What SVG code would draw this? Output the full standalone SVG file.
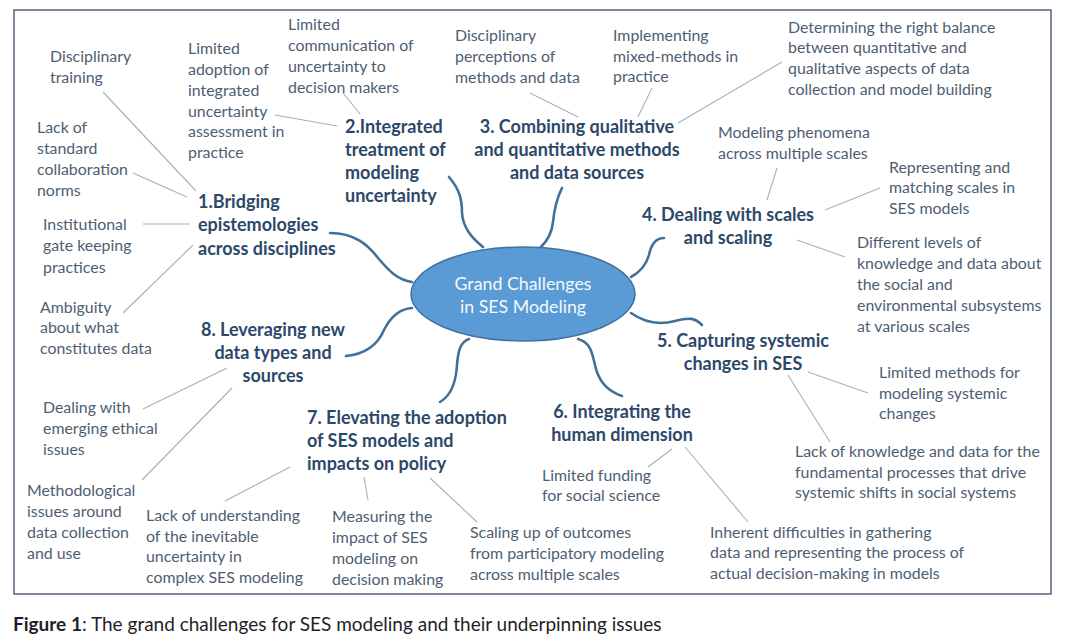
<svg xmlns="http://www.w3.org/2000/svg" width="1072" height="639" viewBox="0 0 1072 639">
<style>
.leaf{font-family:Lato,"Liberation Sans",sans-serif;font-size:15.9px;fill:#4d5e72}
.head{font-family:Lato,"Liberation Sans",sans-serif;font-size:18px;font-weight:bold;fill:#2c4868}
.mid{text-anchor:middle}
.ctr{font-family:Lato,"Liberation Sans",sans-serif;font-size:17.8px;fill:#f4f8fc;text-anchor:middle}
.cap{font-family:Lato,"Liberation Sans",sans-serif;font-size:19px;fill:#1e1e2a}
.thin{fill:none;stroke:#a7b0ba;stroke-width:1.1}
.curve{fill:none;stroke:#41709a;stroke-width:2.6;stroke-linecap:round}
</style>
<rect x="0" y="0" width="1072" height="639" fill="#ffffff"/>
<rect x="14" y="10" width="1037" height="584" fill="#ffffff" stroke="#55657a" stroke-width="1.5"/>

<g id="connectors">
  <path class="curve" d="M330,233 C355,233 368,245 378,258 C390,272 398,280 412,282"/>
  <path class="curve" d="M449,177 C460,190 462,200 462,213 C463,228 472,238 483,247"/>
  <path class="curve" d="M562,188 C556,200 554,212 553,222 C552,233 548,240 541,247"/>
  <path class="curve" d="M664,238 C655,238 651,245 649,255 C646,266 640,272 631,277"/>
  <path class="curve" d="M631,313 C645,323 660,325 675,321 C690,317 695,318 702,325"/>
  <path class="curve" d="M578,339 C590,342 592,352 595,365 C598,380 607,391 622,396"/>
  <path class="curve" d="M469,339 C460,342 458,352 457,365 C456,382 452,395 440,402"/>
  <path class="curve" d="M412,308 C398,309 390,318 384,330 C378,344 366,354 346,356"/>
  <line class="thin" x1="103" y1="92" x2="196" y2="191"/>
  <line class="thin" x1="133" y1="173" x2="187" y2="197"/>
  <line class="thin" x1="143" y1="224" x2="190" y2="224"/>
  <line class="thin" x1="123" y1="313" x2="193" y2="245"/>
  <line class="thin" x1="275" y1="115" x2="337" y2="126"/>
  <line class="thin" x1="343" y1="93" x2="360" y2="114"/>
  <line class="thin" x1="530" y1="93" x2="578" y2="117"/>
  <line class="thin" x1="652" y1="88" x2="638" y2="117"/>
  <line class="thin" x1="782" y1="62" x2="678" y2="123"/>
  <line class="thin" x1="777" y1="168" x2="767" y2="200"/>
  <line class="thin" x1="880" y1="188" x2="825" y2="210"/>
  <line class="thin" x1="797" y1="240" x2="845" y2="257"/>
  <line class="thin" x1="808" y1="372" x2="868" y2="393"/>
  <line class="thin" x1="788" y1="375" x2="830" y2="442"/>
  <line class="thin" x1="685" y1="447" x2="748" y2="522"/>
  <line class="thin" x1="672" y1="449" x2="648" y2="467"/>
  <line class="thin" x1="430" y1="478" x2="477" y2="522"/>
  <line class="thin" x1="364" y1="477" x2="368" y2="500"/>
  <line class="thin" x1="290" y1="467" x2="225" y2="501"/>
  <line class="thin" x1="143" y1="409" x2="227" y2="368"/>
  <line class="thin" x1="232" y1="388" x2="142" y2="480"/>
</g>

<g id="center">
  <ellipse cx="523" cy="294" rx="112" ry="47" fill="#5b9bd5" stroke="#41719c" stroke-width="1.5"/>
  <text class="ctr" x="523" y="290">Grand Challenges</text>
  <text class="ctr" x="523" y="313">in SES Modeling</text>
</g>

<g id="c1">
  <text class="head"><tspan x="198" y="208">1.Bridging</tspan><tspan x="198" y="231">epistemologies</tspan><tspan x="198" y="255">across disciplines</tspan></text>
</g>
<g id="c2">
  <text class="head"><tspan x="345" y="133">2.Integrated</tspan><tspan x="345" y="156">treatment of</tspan><tspan x="345" y="179">modeling</tspan><tspan x="345" y="202">uncertainty</tspan></text>
</g>
<g id="c3">
  <text class="head mid"><tspan x="577" y="133">3. Combining qualitative</tspan><tspan x="577" y="156">and quantitative methods</tspan><tspan x="577" y="179">and data sources</tspan></text>
</g>
<g id="c4">
  <text class="head mid"><tspan x="728" y="221">4. Dealing with scales</tspan><tspan x="728" y="244">and scaling</tspan></text>
</g>
<g id="c5">
  <text class="head mid"><tspan x="743" y="347">5. Capturing systemic</tspan><tspan x="743" y="370">changes in SES</tspan></text>
</g>
<g id="c6">
  <text class="head mid"><tspan x="622" y="418">6. Integrating the</tspan><tspan x="622" y="441">human dimension</tspan></text>
</g>
<g id="c7">
  <text class="head"><tspan x="307" y="424">7. Elevating the adoption</tspan><tspan x="307" y="447">of SES models and</tspan><tspan x="307" y="470">impacts on policy</tspan></text>
</g>
<g id="c8">
  <text class="head mid"><tspan x="273" y="336">8. Leveraging new</tspan><tspan x="273" y="359">data types and</tspan><tspan x="273" y="382">sources</tspan></text>
</g>

<g id="leaves">
  <text class="leaf"><tspan x="50" y="62">Disciplinary</tspan><tspan x="50" y="83">training</tspan></text>
  <text class="leaf"><tspan x="37" y="133">Lack of</tspan><tspan x="37" y="154">standard</tspan><tspan x="37" y="175">collaboration</tspan><tspan x="37" y="196">norms</tspan></text>
  <text class="leaf"><tspan x="43" y="230">Institutional</tspan><tspan x="43" y="251">gate keeping</tspan><tspan x="43" y="273">practices</tspan></text>
  <text class="leaf"><tspan x="40" y="313">Ambiguity</tspan><tspan x="40" y="333">about what</tspan><tspan x="40" y="354">constitutes data</tspan></text>
  <text class="leaf"><tspan x="43" y="413">Dealing with</tspan><tspan x="43" y="434">emerging ethical</tspan><tspan x="43" y="455">issues</tspan></text>
  <text class="leaf"><tspan x="27" y="496">Methodological</tspan><tspan x="27" y="517">issues around</tspan><tspan x="27" y="538">data collection</tspan><tspan x="27" y="559">and use</tspan></text>
  <text class="leaf"><tspan x="146" y="521">Lack of understanding</tspan><tspan x="146" y="542">of the inevitable</tspan><tspan x="146" y="562">uncertainty in</tspan><tspan x="146" y="583">complex SES modeling</tspan></text>
  <text class="leaf"><tspan x="332" y="522">Measuring the</tspan><tspan x="332" y="543">impact of SES</tspan><tspan x="332" y="564">modeling on</tspan><tspan x="332" y="585">decision making</tspan></text>
  <text class="leaf"><tspan x="470" y="538">Scaling up of outcomes</tspan><tspan x="470" y="559">from participatory modeling</tspan><tspan x="470" y="580">across multiple scales</tspan></text>
  <text class="leaf"><tspan x="542" y="481">Limited funding</tspan><tspan x="542" y="501">for social science</tspan></text>
  <text class="leaf"><tspan x="710" y="538">Inherent difficulties in gathering</tspan><tspan x="710" y="558">data and representing the process of</tspan><tspan x="710" y="579">actual decision-making in models</tspan></text>
  <text class="leaf"><tspan x="795" y="457">Lack of knowledge and data for the</tspan><tspan x="795" y="478">fundamental processes that drive</tspan><tspan x="795" y="498">systemic shifts in social systems</tspan></text>
  <text class="leaf"><tspan x="879" y="378">Limited methods for</tspan><tspan x="879" y="399">modeling systemic</tspan><tspan x="879" y="419">changes</tspan></text>
  <text class="leaf"><tspan x="857" y="248">Different levels of</tspan><tspan x="857" y="269">knowledge and data about</tspan><tspan x="857" y="290">the social and</tspan><tspan x="857" y="311">environmental subsystems</tspan><tspan x="857" y="332">at various scales</tspan></text>
  <text class="leaf"><tspan x="889" y="173">Representing and</tspan><tspan x="889" y="193">matching scales in</tspan><tspan x="889" y="214">SES models</tspan></text>
  <text class="leaf"><tspan x="718" y="138">Modeling phenomena</tspan><tspan x="718" y="159">across multiple scales</tspan></text>
  <text class="leaf"><tspan x="788" y="33">Determining the right balance</tspan><tspan x="788" y="53">between quantitative and</tspan><tspan x="788" y="74">qualitative aspects of data</tspan><tspan x="788" y="95">collection and model building</tspan></text>
  <text class="leaf"><tspan x="613" y="41">Implementing</tspan><tspan x="613" y="62">mixed-methods in</tspan><tspan x="613" y="82">practice</tspan></text>
  <text class="leaf"><tspan x="455" y="41">Disciplinary</tspan><tspan x="455" y="62">perceptions of</tspan><tspan x="455" y="83">methods and data</tspan></text>
  <text class="leaf"><tspan x="288" y="30">Limited</tspan><tspan x="288" y="51">communication of</tspan><tspan x="288" y="72">uncertainty to</tspan><tspan x="288" y="93">decision makers</tspan></text>
  <text class="leaf"><tspan x="188" y="54">Limited</tspan><tspan x="188" y="75">adoption of</tspan><tspan x="188" y="96">integrated</tspan><tspan x="188" y="117">uncertainty</tspan><tspan x="188" y="137">assessment in</tspan><tspan x="188" y="158">practice</tspan></text>
</g>

<text class="cap" x="13" y="631"><tspan font-weight="bold">Figure 1</tspan>: The grand challenges for SES modeling and their underpinning issues</text>
</svg>
